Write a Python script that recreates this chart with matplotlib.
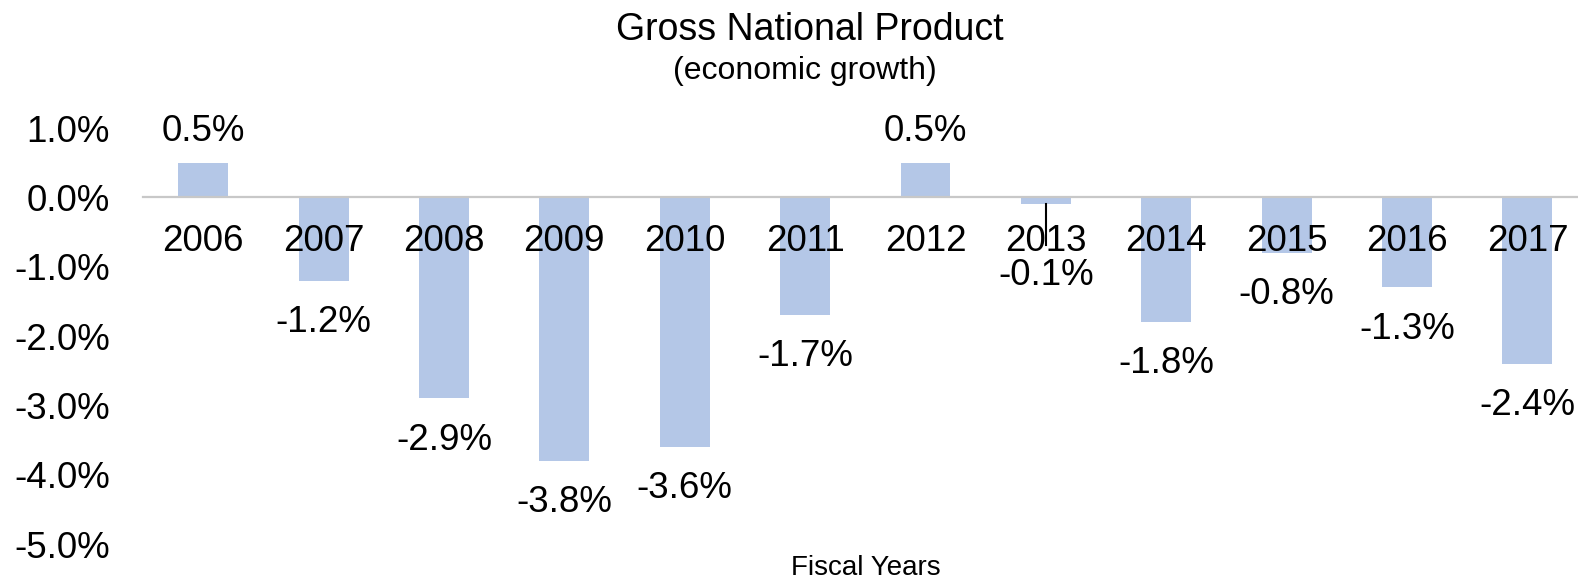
import matplotlib
matplotlib.use("Agg")
import matplotlib.pyplot as plt
from matplotlib.ticker import FuncFormatter

years = ["2006", "2007", "2008", "2009", "2010", "2011",
         "2012", "2013", "2014", "2015", "2016", "2017"]
growth = [0.5, -1.2, -2.9, -3.8, -3.6, -1.7, 0.5, -0.1, -1.8, -0.8, -1.3, -2.4]
y_ticks = [1.0, 0.0, -1.0, -2.0, -3.0, -4.0, -5.0]

plt.rcParams["font.family"] = ["Liberation Sans", "DejaVu Sans"]

fig = plt.figure(figsize=(15.78, 5.79), dpi=100)
W, H = 1578, 579
ax = fig.add_axes([143 / W, 1 - 544 / H, (W - 143) / W, (544 - 128) / H])

xs = list(range(len(years)))
ax.bar(xs, growth, width=0.415, color="#B4C7E7", zorder=1)

ax.set_xlim(-0.5, 11.42)
ax.set_ylim(-5.0, 1.0)
ax.set_yticks(y_ticks)
ax.yaxis.set_major_formatter(FuncFormatter(lambda v, _: f"{v:.1f}%"))
ax.tick_params(axis="y", length=0, pad=24, labelsize=26.5)

for s in ("top", "right", "left"):
    ax.spines[s].set_visible(False)
ax.spines["bottom"].set_position(("data", 0))
ax.spines["bottom"].set_color("#c8c8c8")
ax.spines["bottom"].set_linewidth(1.6)
ax.spines["bottom"].set_zorder(3)
ax.set_xticks([])

# category labels sit just under the zero line, on top of the bars
for x, yr in zip(xs, years):
    ax.text(x, -0.63, yr, ha="center", va="center", fontsize=26.5, zorder=4)

# value labels; small negative bars get pushed below the year label with a leader line
for x, v in zip(xs, growth):
    if v >= 0:
        ty = v + 0.45
    else:
        ty = min(v - 0.6, -1.13)
    ax.text(x, ty, f"{v:.1f}%", ha="center", va="center", fontsize=26.5, zorder=4)
    if v < 0 and ty < v - 0.6:
        ax.plot([x, x], [v, ty + 0.44], color="black", lw=1.5, zorder=5)

fig.text(810 / W, 1 - 30 / H, "Gross National Product", ha="center", va="center", fontsize=27)
fig.text(805 / W, 1 - 71 / H, "(economic growth)", ha="center", va="center", fontsize=23)
fig.text(866 / W, 1 - 568 / H, "Fiscal Years", ha="center", va="center", fontsize=20)

fig.savefig("out.png", dpi=100)
